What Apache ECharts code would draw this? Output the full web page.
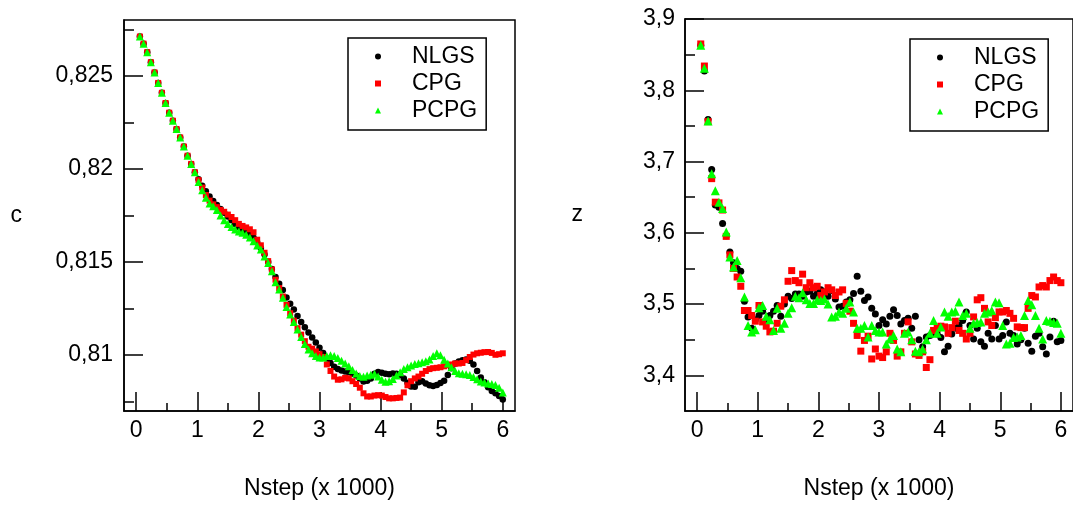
<!DOCTYPE html>
<html><head><meta charset="utf-8">
<script src="https://cdn.jsdelivr.net/npm/echarts@6/dist/echarts.min.js"></script>
<style>html,body{margin:0;padding:0;background:#fff}#c{width:1073px;height:505px}</style>
</head><body><div id="c"></div>
<script>
const nstep = [0.06,0.12,0.18,0.24,0.3,0.36,0.42,0.48,0.54,0.6,0.66,0.72,0.78,0.84,0.9,0.96,1.02,1.08,1.14,1.2,1.26,1.32,1.38,1.44,1.5,1.56,1.62,1.68,1.74,1.8,1.86,1.92,1.98,2.04,2.1,2.16,2.22,2.28,2.34,2.4,2.46,2.52,2.58,2.64,2.7,2.76,2.82,2.88,2.94,3,3.06,3.12,3.18,3.24,3.3,3.36,3.42,3.48,3.54,3.6,3.66,3.72,3.78,3.84,3.9,3.96,4.02,4.08,4.14,4.2,4.26,4.32,4.38,4.44,4.5,4.56,4.62,4.68,4.74,4.8,4.86,4.92,4.98,5.04,5.1,5.16,5.22,5.28,5.34,5.4,5.46,5.52,5.58,5.64,5.7,5.76,5.82,5.88,5.94,6];

const cNLGS = [0.82711,0.82673,0.82627,0.82573,0.82518,0.82462,0.82409,0.82354,0.82302,0.82259,0.82214,0.82169,0.82120,0.82071,0.82027,0.81982,
0.81945,0.81910,0.81880,0.81852,0.81828,0.81806,0.81785,0.81765,0.81745,0.81725,0.81705,0.81688,0.81674,0.81660,0.81646,0.81630,0.81605,0.81575,0.81540,0.81500,0.81462,0.81420,0.81384,0.81350,0.81310,0.81276,0.81245,0.81210,0.81178,0.81150,0.81122,0.81095,0.81068,0.81040,0.81012,0.80982,0.80958,0.80938,0.80925,0.80917,0.80912,0.80908,0.80900,0.80890,0.80875,0.80858,0.80862,0.80875,0.80900,0.80910,0.80905,0.80900,0.80898,0.80902,0.80900,0.80893,0.80875,0.80852,0.80832,0.80830,0.80855,0.80860,0.80848,0.80838,0.80834,0.80840,0.80850,0.80862,0.80893,0.80930,0.80955,0.80966,0.80972,0.80976,0.80970,0.80950,0.80915,0.80880,0.80855,0.80828,0.80808,0.80795,0.80780,0.80762];
const cCPG = [0.82711,0.82673,0.82627,0.82573,0.82518,0.82462,0.82409,0.82354,0.82302,0.82259,0.82214,0.82169,0.82120,0.82071,0.82027,0.81982,
0.81940,0.81900,0.81860,0.81830,0.81810,0.81795,0.81780,0.81770,0.81755,0.81742,0.81725,0.81705,0.81694,0.81686,0.81676,0.81660,0.81620,0.81590,0.81550,0.81505,0.81460,0.81405,0.81360,0.81315,0.81270,0.81225,0.81185,0.81145,0.81110,0.81075,0.81045,0.81035,0.81020,0.81005,0.80990,0.80950,0.80915,0.80885,0.80868,0.80870,0.80878,0.80875,0.80860,0.80845,0.80825,0.80795,0.80778,0.80778,0.80783,0.80785,0.80783,0.80775,0.80768,0.80768,0.80770,0.80772,0.80800,0.80838,0.80860,0.80875,0.80885,0.80900,0.80915,0.80925,0.80930,0.80932,0.80935,0.80940,0.80946,0.80950,0.80955,0.80955,0.80958,0.80973,0.80990,0.81003,0.81010,0.81013,0.81016,0.81017,0.81012,0.81002,0.81005,0.81010];
const cPCPG = [0.82711,0.82673,0.82627,0.82573,0.82518,0.82462,0.82409,0.82354,0.82302,0.82259,0.82214,0.82169,0.82120,0.82071,0.82027,0.81982,
0.81930,0.81885,0.81845,0.81815,0.81800,0.81780,0.81750,0.81725,0.81705,0.81688,0.81675,0.81664,0.81657,0.81647,0.81632,0.81612,0.81589,0.81568,0.81530,0.81495,0.81450,0.81392,0.81352,0.81308,0.81258,0.81218,0.81178,0.81138,0.81098,0.81060,0.81030,0.81010,0.80995,0.80988,0.80988,0.80995,0.81000,0.80995,0.80985,0.80970,0.80955,0.80940,0.80920,0.80902,0.80888,0.80884,0.80890,0.80895,0.80900,0.80885,0.80868,0.80857,0.80860,0.80872,0.80890,0.80908,0.80925,0.80935,0.80945,0.80952,0.80957,0.80962,0.80967,0.80977,0.80995,0.81010,0.81000,0.80975,0.80955,0.80935,0.80915,0.80903,0.80900,0.80898,0.80893,0.80882,0.80870,0.80858,0.80853,0.80848,0.80845,0.80840,0.80825,0.80800];

const zNLGS = [3.863,3.827,3.759,3.689,3.639,3.636,3.613,3.596,3.573,3.558,3.550,3.546,3.504,3.482,3.466,3.478,3.484,3.490,3.476,3.484,3.490,3.498,3.483,3.500,3.511,3.508,3.514,3.514,3.511,3.517,3.518,3.511,3.515,3.520,3.517,3.511,3.519,3.507,3.496,3.497,3.503,3.506,3.515,3.539,3.518,3.505,3.510,3.494,3.486,3.470,3.478,3.472,3.483,3.492,3.484,3.472,3.477,3.480,3.466,3.483,3.450,3.440,3.454,3.456,3.459,3.458,3.453,3.433,3.441,3.458,3.466,3.470,3.477,3.489,3.470,3.451,3.466,3.447,3.441,3.459,3.451,3.470,3.451,3.456,3.475,3.459,3.456,3.444,3.450,3.466,3.445,3.434,3.455,3.459,3.440,3.430,3.454,3.476,3.447,3.449];
const zCPG = [3.865,3.834,3.756,3.676,3.643,3.642,3.632,3.595,3.569,3.550,3.538,3.525,3.491,3.491,3.484,3.476,3.498,3.475,3.469,3.461,3.462,3.473,3.497,3.506,3.532,3.547,3.533,3.530,3.542,3.523,3.530,3.523,3.525,3.512,3.517,3.523,3.520,3.512,3.517,3.520,3.501,3.490,3.473,3.456,3.434,3.449,3.455,3.423,3.437,3.427,3.425,3.433,3.459,3.449,3.427,3.433,3.459,3.475,3.447,3.430,3.428,3.433,3.411,3.422,3.463,3.466,3.469,3.468,3.459,3.467,3.476,3.463,3.459,3.451,3.459,3.482,3.506,3.509,3.494,3.475,3.470,3.481,3.489,3.489,3.491,3.487,3.480,3.468,3.467,3.467,3.494,3.512,3.510,3.524,3.526,3.524,3.533,3.538,3.533,3.530];
const zPCPG = [3.863,3.831,3.757,3.683,3.659,3.643,3.634,3.601,3.566,3.552,3.561,3.537,3.510,3.470,3.461,3.464,3.495,3.498,3.483,3.478,3.463,3.494,3.466,3.473,3.487,3.495,3.511,3.509,3.516,3.506,3.501,3.501,3.506,3.505,3.507,3.500,3.482,3.483,3.489,3.487,3.494,3.503,3.489,3.466,3.466,3.470,3.454,3.470,3.463,3.461,3.461,3.444,3.451,3.456,3.437,3.433,3.459,3.461,3.450,3.434,3.433,3.437,3.450,3.459,3.477,3.459,3.468,3.489,3.483,3.489,3.490,3.503,3.484,3.487,3.466,3.473,3.474,3.475,3.487,3.489,3.491,3.503,3.502,3.470,3.444,3.445,3.453,3.454,3.456,3.484,3.505,3.499,3.484,3.466,3.451,3.477,3.476,3.474,3.473,3.459];

const xMajor = [0,1,2,3,4,5,6];
const xMinor = [0.5,1.5,2.5,3.5,4.5,5.5];
const cMajor = [0.81,0.815,0.82,0.825];
const cMinor = [0.8075,0.8125,0.8175,0.8225,0.8275];
const zMajor = [3.4,3.5,3.6,3.7,3.8,3.9];
const zMinor = [3.45,3.55,3.65,3.75,3.85];
const seriesNames = ['NLGS','CPG','PCPG'];
const xTitle = 'Nstep (x 1000)';
const yTitles = ['c','z'];

const FONT = '"Liberation Sans", Arial, sans-serif';
const txt = {color:'#000', fontSize:23, fontFamily:FONT};
const comma = v => String(v).replace('.', ',');

function xAxes(g){
  return [
    {type:'value', gridIndex:g, min:-0.2, max:6.2, position:'bottom',
     axisLine:{show:true, onZero:false, lineStyle:{color:'#000', width:1.5}},
     axisTick:{show:true, inside:true, length:19, customValues:xMajor, lineStyle:{color:'#000', width:1.5}},
     axisLabel:{customValues:xMajor, margin:8, ...txt},
     splitLine:{show:false},
     name:xTitle, nameLocation:'middle', nameGap:66, nameTextStyle:{...txt}},
    {type:'value', gridIndex:g, min:-0.2, max:6.2, position:'bottom',
     axisLine:{show:false, onZero:false},
     axisTick:{show:true, inside:true, length:8, customValues:xMinor, lineStyle:{color:'#000', width:1.5}},
     axisLabel:{show:false}, splitLine:{show:false}}
  ];
}
function yAxes(g, min, max, major, minor, title, margin){
  return [
    {type:'value', gridIndex:g, min:min, max:max, position:'left',
     axisLine:{show:true, onZero:false, lineStyle:{color:'#000', width:1.5}},
     axisTick:{show:true, inside:true, length:19, customValues:major, lineStyle:{color:'#000', width:1.5}},
     axisLabel:{customValues:major, margin:margin, formatter:comma, ...txt},
     splitLine:{show:false},
     name:title, nameLocation:'middle', nameRotate:0, nameGap:102, nameTextStyle:{...txt}},
    {type:'value', gridIndex:g, min:min, max:max, position:'left',
     axisLine:{show:false, onZero:false},
     axisTick:{show:true, inside:true, length:10, customValues:minor, lineStyle:{color:'#000', width:1.5}},
     axisLabel:{show:false}, splitLine:{show:false}}
  ];
}
function mk(name, g, data, symbol, size, color){
  return {name:name, type:'scatter', xAxisIndex:g*2, yAxisIndex:g*2,
    symbol:symbol, symbolSize:size, itemStyle:{color:color, opacity:1},
    data: nstep.map((x,i)=>[x, data[i]])};
}
function legend(left, top){
  return {left:left, top:top, orient:'vertical', selectedMode:false,
    data:[{name:seriesNames[0], icon:'circle'},{name:seriesNames[1], icon:'rect'},{name:seriesNames[2], icon:'triangle'}],
    itemWidth:6, itemHeight:6, itemGap:0, padding:[5,9,6,27],
    borderColor:'#000', borderWidth:1.5, backgroundColor:'#fff',
    textStyle:{...txt, lineHeight:27, padding:[0,0,0,26]}};
}

const chart = echarts.init(document.getElementById('c'), null, {renderer:'canvas'});
chart.setOption({
  animation:false,
  backgroundColor:'#fff',
  grid:[
    {left:124, top:20, width:391, height:391, show:true, borderColor:'#000', borderWidth:1.5, containLabel:false},
    {left:685, top:19, width:391, height:392, show:true, borderColor:'#000', borderWidth:1.5, containLabel:false}
  ],
  xAxis:[...xAxes(0), ...xAxes(1)],
  yAxis:[...yAxes(0, 0.807, 0.828, cMajor, cMinor, yTitles[0], 11), ...yAxes(1, 3.35, 3.9, zMajor, zMinor, yTitles[1], 10)],
  legend:[legend(348,38), legend(910,39)],
  series:[
    mk(seriesNames[0], 0, cNLGS, 'circle', 6.5, '#000000'),
    mk(seriesNames[1], 0, cCPG, 'rect', 6, '#ff0000'),
    mk(seriesNames[2], 0, cPCPG, 'triangle', 8, '#00ff00'),
    mk(seriesNames[0], 1, zNLGS, 'circle', 7, '#000000'),
    mk(seriesNames[1], 1, zCPG, 'rect', 7, '#ff0000'),
    mk(seriesNames[2], 1, zPCPG, 'triangle', 9, '#00ff00')
  ]
});
</script></body></html>
